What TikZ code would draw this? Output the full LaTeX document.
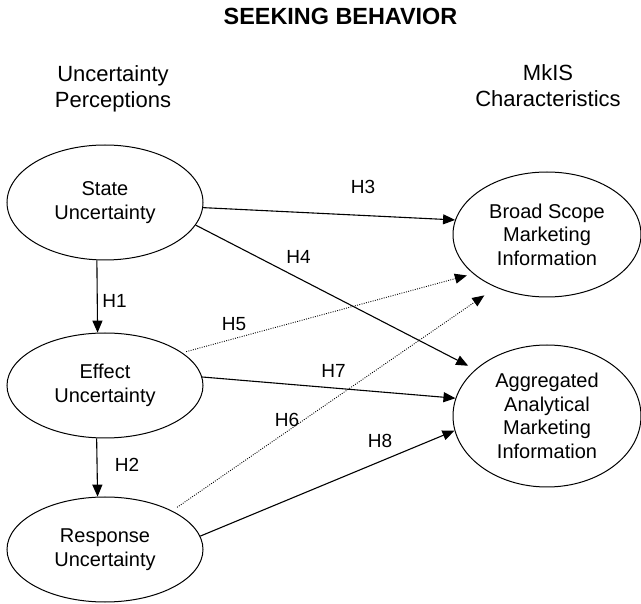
\documentclass[tikz,border=0pt]{standalone}
\usepackage{fontspec}
\setmainfont{Liberation Sans}
\usetikzlibrary{shapes.geometric,arrows.meta}
\begin{document}
\begin{tikzpicture}[x=1pt,y=-1pt,
  elli/.style={ellipse, draw, line width=1pt, inner sep=0pt, align=center,
    font=\fontsize{20}{23.5}\selectfont},
  lefte/.style={elli, minimum width=196pt, minimum height=105pt},
  righte/.style={elli, minimum width=188pt},
  arr/.style={-{Triangle[length=12pt,width=10pt]}, line width=1.1pt},
  dots/.style={arr, line width=0.9pt, dash pattern=on 0.9pt off 1.4pt},
  hlab/.style={font=\fontsize{19}{22}\selectfont, inner sep=0pt},
  head/.style={font=\fontsize{22}{26}\selectfont, align=center, inner sep=0pt}]
\useasboundingbox (0,0) rectangle (641,604);

\node[font=\fontsize{23.4}{26}\selectfont\bfseries, inner sep=0pt] (title) at (340.5,16.5) {SEEKING BEHAVIOR};
\node[head] (hleft) at (113,88.4) {Uncertainty\\Perceptions};
\node[head] (hright) at (548,86.1) {MkIS\\Characteristics};

\node[lefte, minimum height=115pt] (State) at (105,202.5) {State\\Uncertainty};
\node[lefte] (Effect) at (105,385.5) {Effect\\Uncertainty};
\node[lefte] (Response) at (105,549.5) {Response\\Uncertainty};
\node[righte, minimum height=125pt] (Broad) at (547,234.5) {Broad Scope\\Marketing\\Information};
\node[righte, minimum height=142pt] (Aggr) at (547,416) {Aggregated\\Analytical\\Marketing\\Information};

\draw[arr] (State.262) -- (Effect.98.7);
\draw[arr] (Effect.261.3) -- (Response.98.7);
\draw[arr] (State.-3.2) -- (Broad.171.3);
\draw[arr, shorten >=8pt] (State.-14.9) -- (Aggr.147.2);
\draw[dots, shorten <=4pt, shorten >=6.5pt] (Effect.23.9) -- (Broad.208.3);
\draw[dots, shorten <=6pt, shorten >=14pt] (Response.30) -- (Broad.226.6);
\draw[arr] (Effect.5) -- (Aggr.169.3);
\draw[arr] (Response.8.4) -- (Aggr.189.6);

\node[hlab] (l1) at (114.5,300.5) {H1};
\node[hlab] (l2) at (127,465) {H2};
\node[hlab] (l3) at (363,187) {H3};
\node[hlab] (l4) at (298.5,256.5) {H4};
\node[hlab] (l5) at (234,324) {H5};
\node[hlab] (l6) at (287,420) {H6};
\node[hlab] (l7) at (333.5,370.5) {H7};
\node[hlab] (l8) at (380,441) {H8};
\end{tikzpicture}
\end{document}
